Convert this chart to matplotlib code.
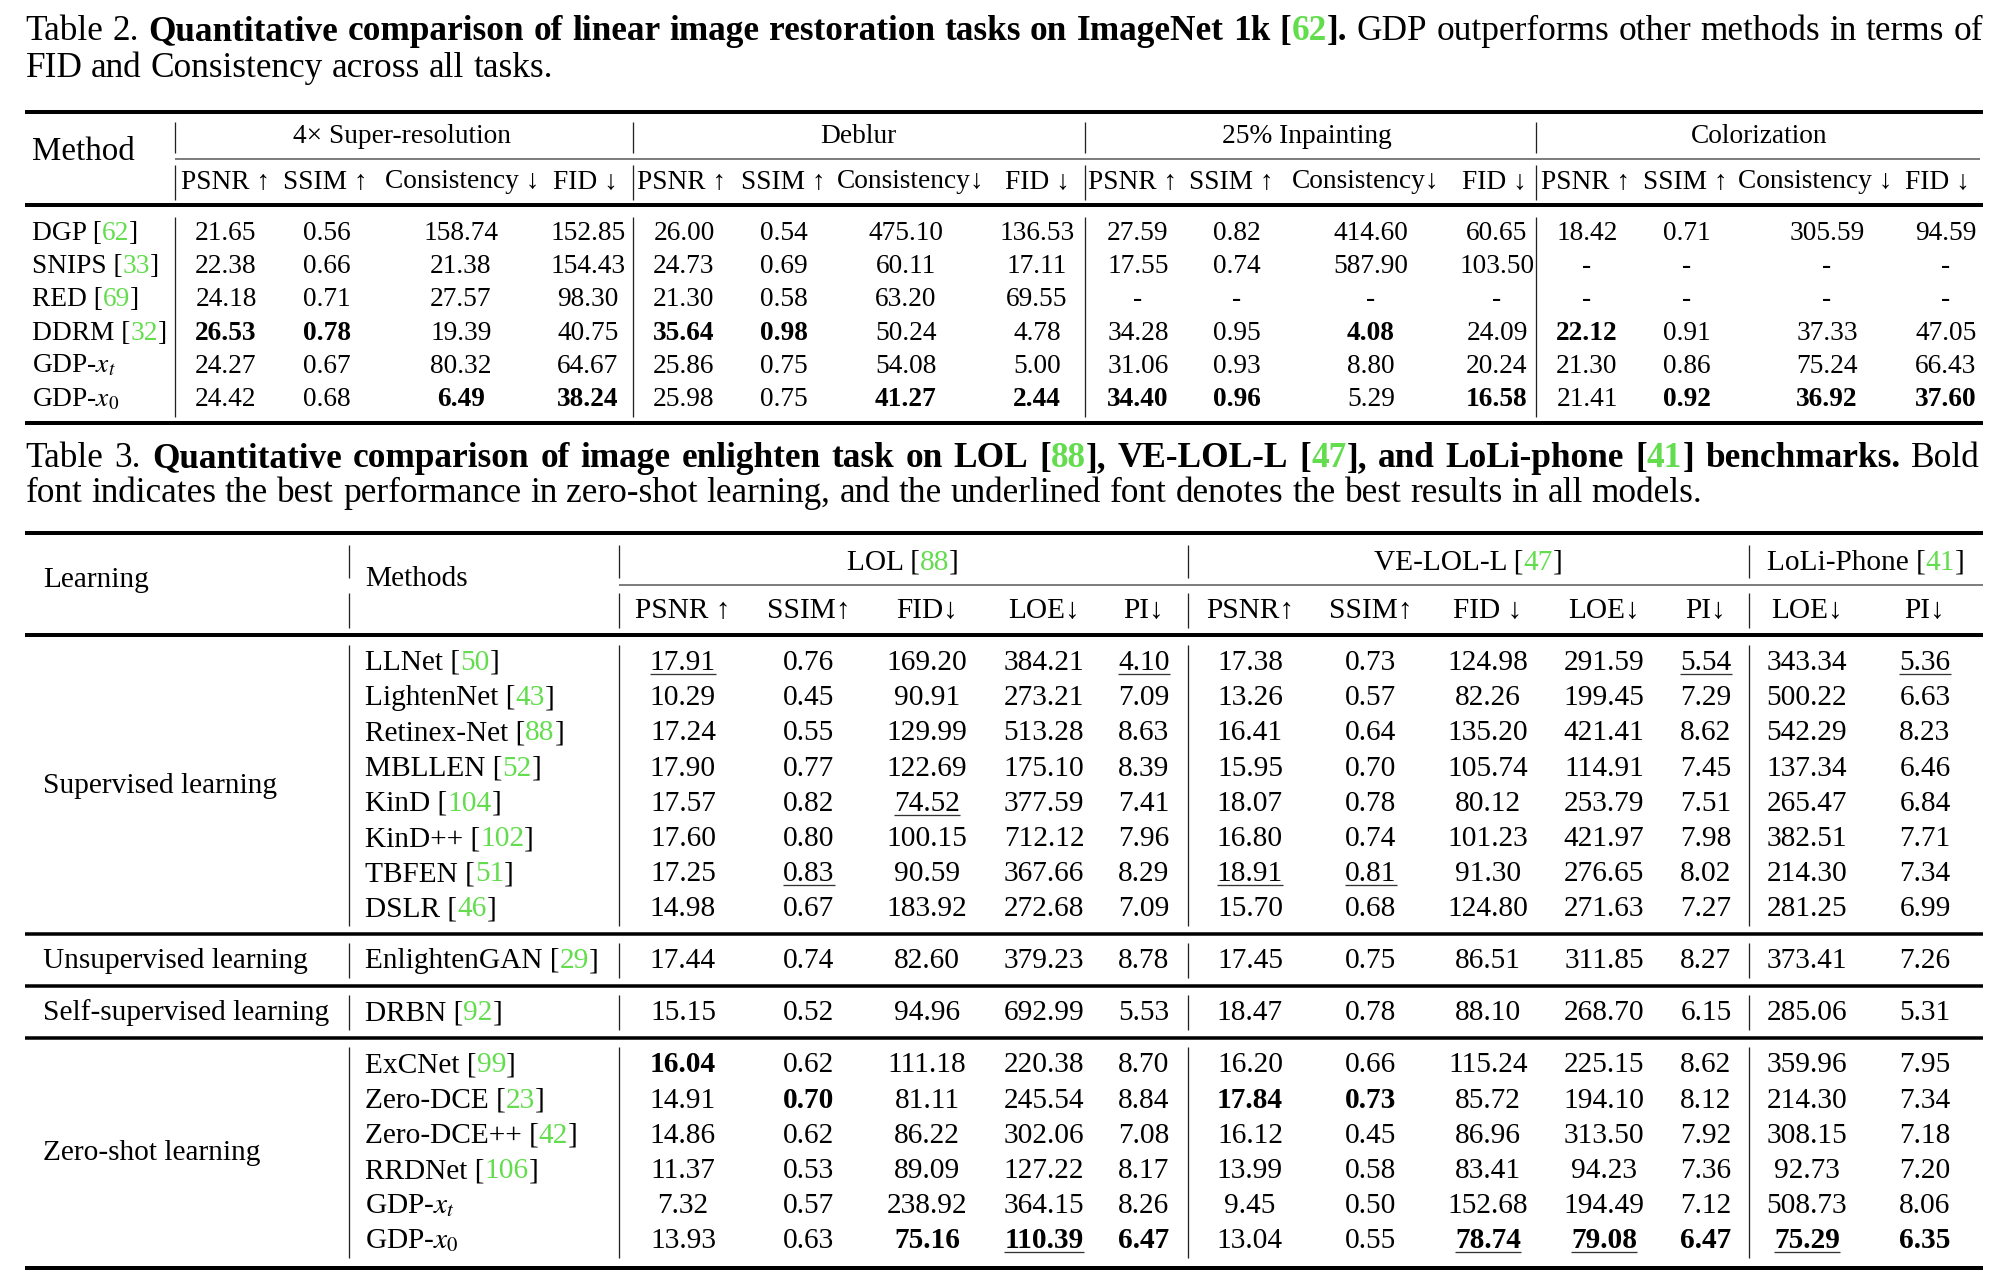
import matplotlib
matplotlib.use('Agg')
import matplotlib.pyplot as plt

plt.rcParams['font.family'] = ['Liberation Serif', 'DejaVu Serif']
plt.rcParams['mathtext.fontset'] = 'stix'

GREEN = '#63dd4e'
BLACK = '#000000'

# ---------------- Table 2 data ----------------
t2_methods = ['DGP', 'SNIPS', 'RED', 'DDRM', 'GDP-$x_t$', 'GDP-$x_0$']
t2_refs = ['62', '33', '69', '32', None, None]
t2_tasks = ['4× Super-resolution', 'Deblur', '25% Inpainting', 'Colorization']
t2_metrics = [['PSNR ↑', 'SSIM ↑', 'Consistency ↓', 'FID ↓'],
              ['PSNR ↑', 'SSIM ↑', 'Consistency↓', 'FID ↓'],
              ['PSNR ↑', 'SSIM ↑', 'Consistency↓', 'FID ↓'],
              ['PSNR ↑', 'SSIM ↑', 'Consistency ↓', 'FID ↓']]

sr_psnr = [21.65, 22.38, 24.18, 26.53, 24.27, 24.42]
sr_ssim = [0.56, 0.66, 0.71, 0.78, 0.67, 0.68]
sr_cons = [158.74, 21.38, 27.57, 19.39, 80.32, 6.49]
sr_fid = [152.85, 154.43, 98.30, 40.75, 64.67, 38.24]
db_psnr = [26.00, 24.73, 21.30, 35.64, 25.86, 25.98]
db_ssim = [0.54, 0.69, 0.58, 0.98, 0.75, 0.75]
db_cons = [475.10, 60.11, 63.20, 50.24, 54.08, 41.27]
db_fid = [136.53, 17.11, 69.55, 4.78, 5.00, 2.44]
ip_psnr = [27.59, 17.55, None, 34.28, 31.06, 34.40]
ip_ssim = [0.82, 0.74, None, 0.95, 0.93, 0.96]
ip_cons = [414.60, 587.90, None, 4.08, 8.80, 5.29]
ip_fid = [60.65, 103.50, None, 24.09, 20.24, 16.58]
co_psnr = [18.42, None, None, 22.12, 21.30, 21.41]
co_ssim = [0.71, None, None, 0.91, 0.86, 0.92]
co_cons = [305.59, None, None, 37.33, 75.24, 36.92]
co_fid = [94.59, None, None, 47.05, 66.43, 37.60]

t2_columns = [sr_psnr, sr_ssim, sr_cons, sr_fid,
              db_psnr, db_ssim, db_cons, db_fid,
              ip_psnr, ip_ssim, ip_cons, ip_fid,
              co_psnr, co_ssim, co_cons, co_fid]
t2_bold = [(3, 0), (3, 1), (5, 2), (5, 3),
           (3, 4), (3, 5), (5, 6), (5, 7),
           (5, 8), (5, 9), (3, 10), (5, 11),
           (3, 12), (5, 13), (5, 14), (5, 15)]

# ---------------- Table 3 data ----------------
t3_methods = ['LLNet', 'LightenNet', 'Retinex-Net', 'MBLLEN', 'KinD', 'KinD++',
              'TBFEN', 'DSLR', 'EnlightenGAN', 'DRBN', 'ExCNet', 'Zero-DCE',
              'Zero-DCE++', 'RRDNet', 'GDP-$x_t$', 'GDP-$x_0$']
t3_refs = ['50', '43', '88', '52', '104', '102', '51', '46', '29', '92', '99',
           '23', '42', '106', None, None]
t3_groups = ['Supervised learning', 'Unsupervised learning',
             'Self-supervised learning', 'Zero-shot learning']
t3_group_sizes = [8, 1, 1, 6]
t3_datasets = [('LOL', '88'), ('VE-LOL-L', '47'), ('LoLi-Phone', '41')]
t3_metrics = [['PSNR ↑', 'SSIM↑', 'FID↓', 'LOE↓', 'PI↓'],
              ['PSNR↑', 'SSIM↑', 'FID ↓', 'LOE↓', 'PI↓'],
              ['LOE↓', 'PI↓']]

lol_psnr = [17.91, 10.29, 17.24, 17.90, 17.57, 17.60, 17.25, 14.98, 17.44, 15.15,
            16.04, 14.91, 14.86, 11.37, 7.32, 13.93]
lol_ssim = [0.76, 0.45, 0.55, 0.77, 0.82, 0.80, 0.83, 0.67, 0.74, 0.52,
            0.62, 0.70, 0.62, 0.53, 0.57, 0.63]
lol_fid = [169.20, 90.91, 129.99, 122.69, 74.52, 100.15, 90.59, 183.92, 82.60, 94.96,
           111.18, 81.11, 86.22, 89.09, 238.92, 75.16]
lol_loe = [384.21, 273.21, 513.28, 175.10, 377.59, 712.12, 367.66, 272.68, 379.23, 692.99,
           220.38, 245.54, 302.06, 127.22, 364.15, 110.39]
lol_pi = [4.10, 7.09, 8.63, 8.39, 7.41, 7.96, 8.29, 7.09, 8.78, 5.53,
          8.70, 8.84, 7.08, 8.17, 8.26, 6.47]
ve_psnr = [17.38, 13.26, 16.41, 15.95, 18.07, 16.80, 18.91, 15.70, 17.45, 18.47,
           16.20, 17.84, 16.12, 13.99, 9.45, 13.04]
ve_ssim = [0.73, 0.57, 0.64, 0.70, 0.78, 0.74, 0.81, 0.68, 0.75, 0.78,
           0.66, 0.73, 0.45, 0.58, 0.50, 0.55]
ve_fid = [124.98, 82.26, 135.20, 105.74, 80.12, 101.23, 91.30, 124.80, 86.51, 88.10,
          115.24, 85.72, 86.96, 83.41, 152.68, 78.74]
ve_loe = [291.59, 199.45, 421.41, 114.91, 253.79, 421.97, 276.65, 271.63, 311.85, 268.70,
          225.15, 194.10, 313.50, 94.23, 194.49, 79.08]
ve_pi = [5.54, 7.29, 8.62, 7.45, 7.51, 7.98, 8.02, 7.27, 8.27, 6.15,
         8.62, 8.12, 7.92, 7.36, 7.12, 6.47]
loli_loe = [343.34, 500.22, 542.29, 137.34, 265.47, 382.51, 214.30, 281.25, 373.41, 285.06,
            359.96, 214.30, 308.15, 92.73, 508.73, 75.29]
loli_pi = [5.36, 6.63, 8.23, 6.46, 6.84, 7.71, 7.34, 6.99, 7.26, 5.31,
           7.95, 7.34, 7.18, 7.20, 8.06, 6.35]

t3_columns = [lol_psnr, lol_ssim, lol_fid, lol_loe, lol_pi,
              ve_psnr, ve_ssim, ve_fid, ve_loe, ve_pi,
              loli_loe, loli_pi]
t3_bold = [(10, 0), (11, 1), (15, 2), (15, 3), (15, 4), (11, 5), (11, 6),
           (15, 7), (15, 8), (15, 9), (15, 10), (15, 11)]
t3_underline = [(0, 0), (0, 4), (4, 2), (6, 1), (6, 5), (6, 6), (0, 9), (0, 11),
                (15, 3), (15, 7), (15, 8), (15, 10)]

# ---------------- figure ----------------
W, H = 2004, 1282
fig = plt.figure(figsize=(W / 100, H / 100), dpi=100)
ax = fig.add_axes([0, 0, 1, 1])
ax.set_xlim(0, W)
ax.set_ylim(H, 0)
ax.axis('off')
renderer = fig.canvas.get_renderer()


def text_w(s, size, weight='normal'):
    t = ax.text(0, 0, s, fontsize=size, fontweight=weight)
    w = t.get_window_extent(renderer).width
    t.remove()
    return w


def fit(s, target, weight='normal'):
    return 20.0 * target / text_w(s, 20.0, weight)


CAP_FS = fit('FID and Consistency across all tasks.', 526)
T2_FS = fit('25% Inpainting', 170)
T2_HEAD_FS = fit('Method', 102)
T3_FS = fit('Self-supervised learning', 287)

PAD = 0.0


def runs(x, y, segs, size, ha='left'):
    objs = []
    cx = 0.0
    for s, wt, c in segs:
        t = ax.text(0, y, s, fontsize=size, fontweight=wt, color=c,
                    va='baseline', ha='left')
        objs.append((t, cx))
        cx += t.get_window_extent(renderer).width + PAD
    total = cx - PAD
    x0 = x - total / 2 if ha == 'center' else x
    for t, off in objs:
        t.set_x(x0 + off)
    return total


def cited(name, ref, weight='normal'):
    if ref is None:
        return [(name, weight, BLACK)]
    return [(name + ' [', weight, BLACK), (ref, weight, GREEN), (']', weight, BLACK)]


def words(text, weight):
    return [[(w, weight, BLACK)] for w in text.split()]


def caption_line(wlist, x0, y, size, x1=None):
    items = []
    for segs in wlist:
        objs = []
        cx = 0.0
        for s, wt, c in segs:
            t = ax.text(0, y, s, fontsize=size, fontweight=wt, color=c,
                        va='baseline', ha='left')
            objs.append((t, cx))
            cx += t.get_window_extent(renderer).width
        items.append((objs, cx))
    total = sum(w for _, w in items)
    if x1 is not None:
        gap = (x1 - x0 - total) / (len(items) - 1)
    else:
        gap = text_w('a a', size) - text_w('aa', size)
    x = x0
    for objs, w in items:
        for t, off in objs:
            t.set_x(x + off)
        x += w + gap


def hline(y, x0, x1, px, color=BLACK):
    ax.plot([x0, x1], [y, y], color=color, lw=px * 0.72, solid_capstyle='butt')


def vline(x, y0, y1, px=1.3, color='#222222'):
    ax.plot([x, x], [y0, y1], color=color, lw=px * 0.72, solid_capstyle='butt')


def fmt(v):
    return '-' if v is None else f'{v:.2f}'


LEFT, RIGHT = 25.5, 1983

# ---------------- Table 2 caption ----------------
line1 = (words('Table 2.', 'normal')
         + words('Quantitative comparison of linear image restoration tasks on ImageNet 1k', 'bold')
         + [[('[', 'bold', BLACK), ('62', 'bold', GREEN), ('].', 'bold', BLACK)]]
         + words('GDP outperforms other methods in terms of', 'normal'))
caption_line(line1, LEFT, 40, CAP_FS, RIGHT)
caption_line(words('FID and Consistency across all tasks.', 'normal'), LEFT, 77, CAP_FS)

# ---------------- Table 2 body ----------------
t2_vx = [175, 633, 1085, 1536]
t2_task_cx = [402, 858, 1307, 1759]
t2_head_cx = [226, 325, 462, 585, 682, 783, 911, 1037,
              1133, 1231, 1366, 1494, 1586, 1685, 1815, 1937]
t2_data_cx = [226, 327, 461, 588, 684, 784, 906, 1037,
              1138, 1237, 1371, 1497, 1587, 1687, 1827, 1946]
t2_row0, t2_pitch = 240, 33.2

hline(112, LEFT, RIGHT, 4)
hline(159, 175, 1980, 1.5, '#555555')
hline(205, LEFT, RIGHT, 4)
hline(423, LEFT, RIGHT, 4)
for x in t2_vx:
    vline(x, 122, 153)
    vline(x, 165, 200)
    vline(x, 217, 417)

ax.text(32, 160, 'Method', fontsize=T2_HEAD_FS, va='baseline', ha='left')
for g, name in enumerate(t2_tasks):
    ax.text(t2_task_cx[g], 143, name, fontsize=T2_FS, va='baseline', ha='center')
    for k, m in enumerate(t2_metrics[g]):
        ax.text(t2_head_cx[g * 4 + k], 188, m, fontsize=T2_FS, va='baseline', ha='center')

for i, (name, ref) in enumerate(zip(t2_methods, t2_refs)):
    y = t2_row0 + i * t2_pitch
    runs(32, y, cited(name, ref), T2_FS)
    for j, col in enumerate(t2_columns):
        wt = 'bold' if (i, j) in t2_bold else 'normal'
        ax.text(t2_data_cx[j], y, fmt(col[i]), fontsize=T2_FS, fontweight=wt,
                va='baseline', ha='center')

# ---------------- Table 3 caption ----------------
line1 = (words('Table 3.', 'normal')
         + words('Quantitative comparison of image enlighten task on LOL', 'bold')
         + [[('[', 'bold', BLACK), ('88', 'bold', GREEN), ('],', 'bold', BLACK)]]
         + words('VE-LOL-L', 'bold')
         + [[('[', 'bold', BLACK), ('47', 'bold', GREEN), ('],', 'bold', BLACK)]]
         + words('and LoLi-phone', 'bold')
         + [[('[', 'bold', BLACK), ('41', 'bold', GREEN), (']', 'bold', BLACK)]]
         + words('benchmarks.', 'bold')
         + words('Bold', 'normal'))
caption_line(line1, LEFT, 467, CAP_FS, 1980)
caption_line(words('font indicates the best performance in zero-shot learning, and the '
                   'underlined font denotes the best results in all models.', 'normal'),
             LEFT, 502, CAP_FS)

# ---------------- Table 3 body ----------------
t3_vx = [349, 619, 1188, 1749]
t3_set_cx = [903, 1468, 1866]
t3_cx = [683, 809, 927, 1044, 1144, 1250, 1371, 1488, 1604, 1706, 1807, 1925]

hline(533, LEFT, RIGHT, 4)
hline(585, 619, RIGHT, 1.5, '#555555')
hline(635, LEFT, RIGHT, 4)
for x in t3_vx:
    vline(x, 545, 578)
    vline(x, 593, 628)

ax.text(43, 587, 'Learning', fontsize=T3_FS, va='baseline', ha='left')
ax.text(365, 586, 'Methods', fontsize=T3_FS, va='baseline', ha='left')
k = 0
for d, (dname, dref) in enumerate(t3_datasets):
    runs(t3_set_cx[d], 570, cited(dname, dref), T3_FS, ha='center')
    for m in t3_metrics[d]:
        ax.text(t3_cx[k], 618, m, fontsize=T3_FS, va='baseline', ha='center')
        k += 1

row_pitch, group_pitch = 35.2, 52
y = 670
row = 0
for g, (gname, gsize) in enumerate(zip(t3_groups, t3_group_sizes)):
    ys = []
    for r in range(gsize):
        ys.append(y)
        i = row
        runs(365, y, cited(t3_methods[i], t3_refs[i]), T3_FS)
        for j, col in enumerate(t3_columns):
            wt = 'bold' if (i, j) in t3_bold else 'normal'
            t = ax.text(t3_cx[j], y, fmt(col[i]), fontsize=T3_FS, fontweight=wt,
                        va='baseline', ha='center')
            if (i, j) in t3_underline:
                bb = t.get_window_extent(renderer)
                hline(y + 4, bb.x0, bb.x1, 1.3, '#333333')
        row += 1
        if r < gsize - 1:
            y += row_pitch
    mid = (ys[0] + ys[-1]) / 2
    ax.text(43, mid, gname, fontsize=T3_FS, va='baseline', ha='left')
    for x in t3_vx:
        vline(x, ys[0] - 25, ys[-1] + 10)
    if g < len(t3_groups) - 1:
        hline(ys[-1] + 17.5, LEFT, RIGHT, 3.5)
        y += group_pitch
    else:
        hline(ys[-1] + 20, LEFT, RIGHT, 4)

fig.savefig('out.png', dpi=100)
